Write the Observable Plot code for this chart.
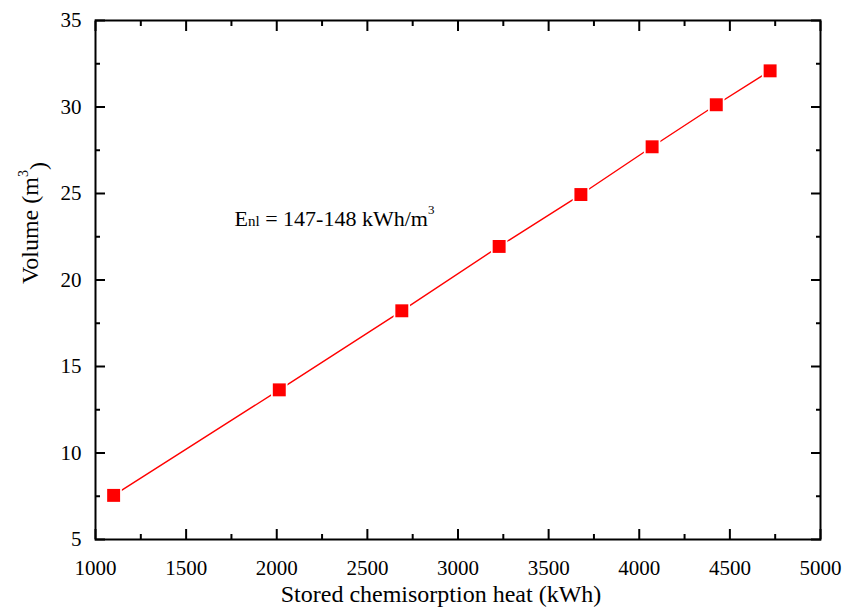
<!DOCTYPE html>
<html><head><meta charset="utf-8">
<script src="https://cdn.jsdelivr.net/npm/d3@7"></script>
<script src="https://cdn.jsdelivr.net/npm/@observablehq/plot@0.6"></script>
<style>
body{margin:0;background:#fff}
</style>
</head><body><div id="chart"></div>
<script>
const heat = [1100, 2014, 2690, 3227, 3678, 4071, 4425, 4722];
const volume = [7.55, 13.65, 18.22, 21.94, 24.94, 27.70, 30.13, 32.09];
const xTicks = [1000, 1500, 2000, 2500, 3000, 3500, 4000, 4500, 5000];
const xMinor = [1250, 1750, 2250, 2750, 3250, 3750, 4250, 4750];
const yTicks = [5, 10, 15, 20, 25, 30, 35];
const yMinor = [7.5, 12.5, 17.5, 22.5, 27.5, 32.5];
const xTitle = "Stored chemisorption heat (kWh)";
const yTitle = "Volume (m3)";
const noteText = "Enl = 147-148 kWh/m3";
const noteX = 1767;
const noteY = 23.15;

const data = heat.map((h, i) => ({heat: h, volume: volume[i]}));
const red = "#ff0000";
const serif = "'Liberation Serif', 'DejaVu Serif', 'Times New Roman', serif";

const chart = Plot.plot({
  width: 844, height: 614,
  marginLeft: 95, marginRight: 24, marginTop: 20, marginBottom: 75,
  style: {fontSize: "21px", color: "#000", background: "#fff", overflow: "visible"},
  x: {domain: [1000, 5000]},
  y: {domain: [5, 35]},
  marks: [
    Plot.axisX(xTicks, {anchor: "bottom", tickSize: 0, tickPadding: 21, fontSize: 21, tickFormat: d3.format("d"), label: null}),
    Plot.axisY(yTicks, {anchor: "left", tickSize: 0, tickPadding: 14, fontSize: 21, tickFormat: d3.format("d"), label: null}),
    Plot.axisX(xTicks, {anchor: "bottom", tickSize: -10, strokeWidth: 2, fill: "none", label: null}),
    Plot.axisX(xMinor, {anchor: "bottom", tickSize: -5, strokeWidth: 2, fill: "none", label: null}),
    Plot.axisX(xTicks, {anchor: "top", tickSize: -10, strokeWidth: 2, fill: "none", label: null}),
    Plot.axisX(xMinor, {anchor: "top", tickSize: -5, strokeWidth: 2, fill: "none", label: null}),
    Plot.axisY(yTicks, {anchor: "left", tickSize: -10, strokeWidth: 2, fill: "none", label: null}),
    Plot.axisY(yMinor, {anchor: "left", tickSize: -5, strokeWidth: 2, fill: "none", label: null}),
    Plot.axisY(yTicks, {anchor: "right", tickSize: -10, strokeWidth: 2, fill: "none", label: null}),
    Plot.axisY(yMinor, {anchor: "right", tickSize: -5, strokeWidth: 2, fill: "none", label: null}),
    Plot.frame({strokeWidth: 2}),
    Plot.text([xTitle], {frameAnchor: "bottom", dx: -17, dy: 62, fontSize: 24}),
    Plot.text([yTitle], {frameAnchor: "left", rotate: -90, dx: -65, dy: 4, fontSize: 24}),
    Plot.line(data, {x: "heat", y: "volume", stroke: red, strokeWidth: 1.4}),
    Plot.dot(data, {x: "heat", y: "volume", symbol: "square", r: 9.3, fill: "white"}),
    Plot.dot(data, {x: "heat", y: "volume", symbol: "square", r: 7.3, fill: red}),
    Plot.text([noteText], {x: () => noteX, y: () => noteY, textAnchor: "start", lineAnchor: "bottom", fontSize: 22})
  ]
});
document.getElementById("chart").appendChild(chart);

chart.setAttribute("font-family", serif);
chart.style.fontFamily = serif;
chart.querySelectorAll("g, text").forEach(el => {
  if (el.tagName === "text" || el.hasAttribute("font-family")) el.setAttribute("font-family", serif);
});

function rich(content, parts) {
  d3.select(chart).selectAll("text").filter(function() { return this.textContent === content; })
    .each(function() {
      const t = d3.select(this);
      t.text(null);
      parts.forEach(p => {
        const s = t.append("tspan").text(p.t);
        if (p.size) s.attr("font-size", p.size);
        if (p.dy) s.attr("dy", p.dy);
      });
    });
}
rich(noteText, [
  {t: "E"}, {t: "nl", size: 15}, {t: " = 147-148 kWh/m"}, {t: "3", size: 13, dy: "-0.85em"}
]);
rich(yTitle, [
  {t: "Volume (m"}, {t: "3", size: 14, dy: "-0.75em"}, {t: ")", dy: "0.75em"}
]);
</script>
</body></html>
